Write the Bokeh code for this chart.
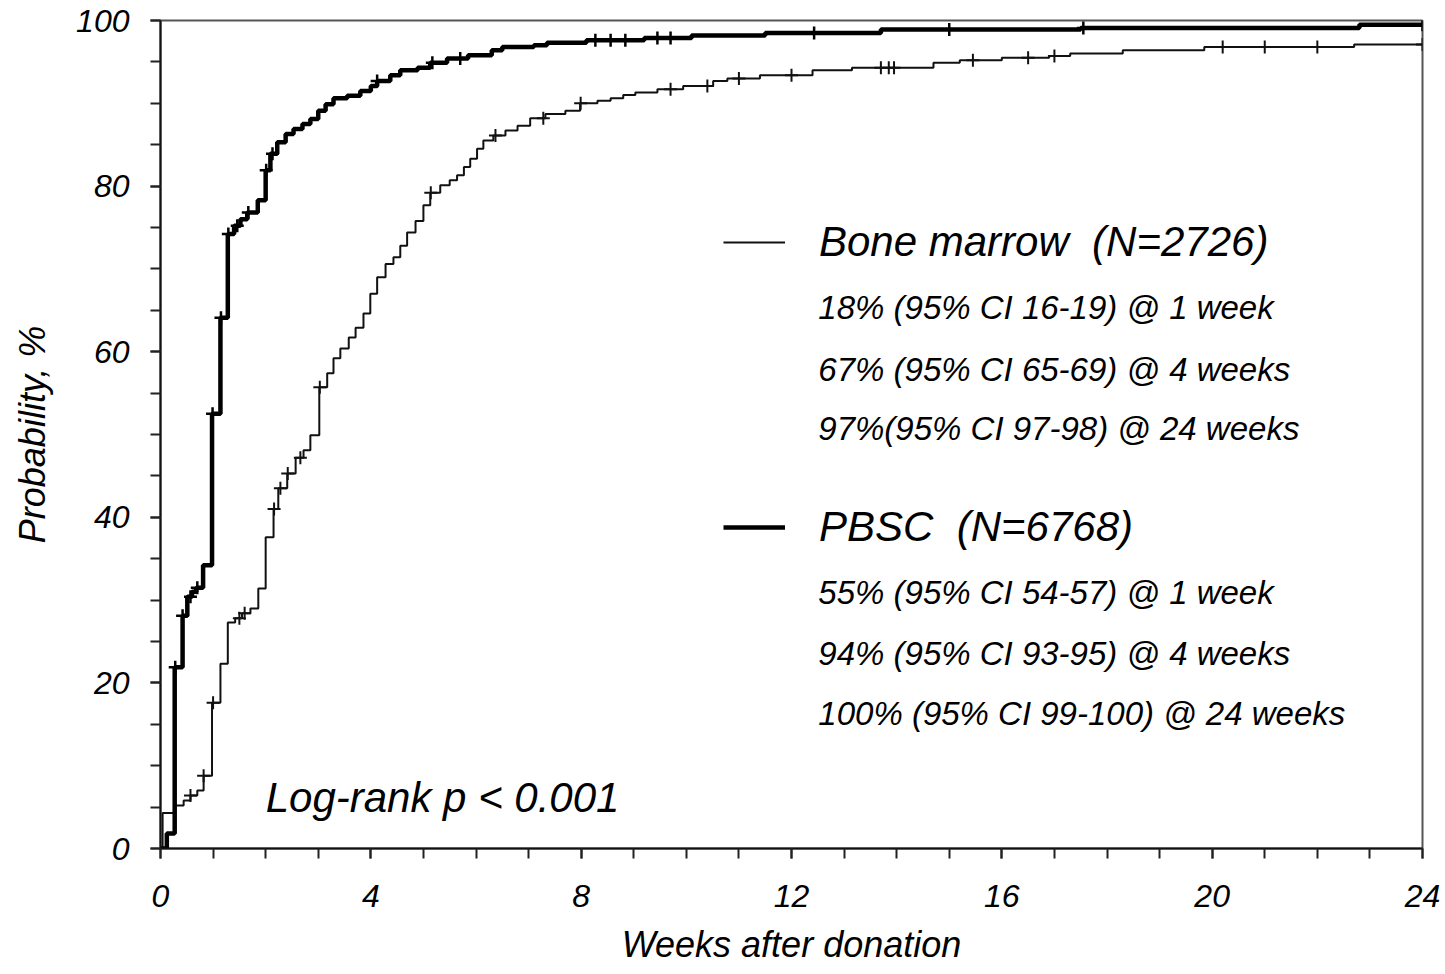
import numpy as np
from bokeh.plotting import figure
from bokeh.models import FixedTicker, Label, Legend, LegendItem, Range1d
from bokeh.embed import file_html
from bokeh.resources import INLINE

# ---- data ----
bm_weeks = [0, 0.04, 0.28, 0.44, 0.57, 0.70, 0.82, 0.98, 1.14, 1.28, 1.42, 1.55, 1.71, 1.86,
            2.00, 2.15, 2.24, 2.41, 2.57, 2.72, 2.85, 3.02, 3.17, 3.29, 3.42, 3.58, 3.71, 3.86,
            3.99, 4.12, 4.28, 4.43, 4.56, 4.69, 4.85, 5.00, 5.13, 5.32, 5.50, 5.64, 5.77, 5.89,
            6.02, 6.14, 6.33, 6.56, 6.79, 7.03, 7.32, 7.70, 7.98, 8.31, 8.56, 8.80, 9.03, 9.45,
            9.94, 10.51, 10.78, 11.40, 12.40, 13.15, 14.70, 15.20, 16.00, 16.90, 17.30, 18.30,
            19.85, 22.70, 24.0]
bm_prob = [0, 4.3, 5.2, 5.8, 6.4, 7.0, 8.8, 17.6, 22.3, 27.3, 27.8, 28.4, 29.0, 31.4,
           37.6, 41.0, 43.5, 45.3, 47.2, 48.1, 49.9, 55.7, 57.4, 59.2, 60.4, 61.7, 62.9, 64.6,
           67.0, 69.0, 70.6, 71.4, 72.8, 74.4, 75.8, 77.7, 79.2, 80.1, 80.7, 81.3, 82.3, 83.3,
           84.5, 85.5, 86.1, 86.7, 87.3, 88.2, 88.7, 89.1, 90.0, 90.3, 90.6, 91.0, 91.3, 91.7,
           92.1, 92.7, 93.0, 93.4, 94.0, 94.3, 94.9, 95.2, 95.5, 95.7, 96.0, 96.4,
           96.8, 97.1, 97.1]
bm_censored = [0.57, 0.82, 1.0, 1.5, 1.6, 2.16, 2.28, 2.42, 2.66, 3.03, 5.14, 6.37, 7.28, 7.99,
               9.7, 10.4, 11.0, 12.0, 13.7, 13.85, 13.95, 15.45, 16.5, 17.0, 20.2, 21.0, 22.0, 24.0]

pbsc_weeks = [0, 0.12, 0.27, 0.42, 0.51, 0.60, 0.68, 0.81, 0.98, 1.14, 1.28, 1.40, 1.52, 1.65,
              1.85, 2.00, 2.09, 2.22, 2.38, 2.53, 2.70, 2.85, 3.00, 3.14, 3.29, 3.55, 3.80, 4.00,
              4.12, 4.37, 4.56, 4.89, 5.13, 5.45, 5.85, 6.30, 6.50, 7.10, 7.35, 8.10, 9.20, 10.10,
              11.50, 13.70, 17.50, 22.80, 24.0]
pbsc_prob = [0, 1.8, 21.9, 28.1, 30.4, 31.0, 31.5, 34.2, 52.5, 64.1, 74.2, 75.2, 76.0, 76.8,
             78.3, 81.9, 83.9, 85.3, 86.3, 86.9, 87.5, 88.1, 89.1, 89.9, 90.6, 90.9, 91.5, 92.1,
             92.7, 93.4, 94.0, 94.3, 94.9, 95.4, 95.8, 96.4, 96.8, 97.0, 97.3, 97.6, 97.9, 98.2,
             98.5, 98.9, 99.1, 99.5, 99.5]
pbsc_censored = [0.28, 0.42, 0.57, 0.70, 0.99, 1.15, 1.29, 1.46, 1.67, 2.01, 2.13, 4.12, 5.17,
                 5.70, 8.27, 8.56, 8.84, 9.45, 9.70, 12.43, 15.0, 17.55, 24.0]

x_ticks = [0, 4, 8, 12, 16, 20, 24]
y_ticks = [0, 20, 40, 60, 80, 100]

bm_label = "Bone marrow  (N=2726)"
pbsc_label = "PBSC  (N=6768)"
bm_notes = ["18% (95% CI 16-19) @ 1 week", "67% (95% CI 65-69) @ 4 weeks",
            "97%(95% CI 97-98) @ 24 weeks"]
pbsc_notes = ["55% (95% CI 54-57) @ 1 week", "94% (95% CI 93-95) @ 4 weeks",
              "100% (95% CI 99-100) @ 24 weeks"]
logrank = "Log-rank p < 0.001"


def value_at(ts, vs, t):
    idx = np.searchsorted(np.asarray(ts), t, side="right") - 1
    return [vs[i] for i in idx]


FONT = "Liberation Sans"

p = figure(width=1445, height=974, output_backend="svg", toolbar_location=None,
           x_range=Range1d(0, 24), y_range=Range1d(0, 100),
           min_border_left=160, min_border_right=23, min_border_top=20, min_border_bottom=126)
p.xgrid.visible = False
p.ygrid.visible = False
p.outline_line_color = "#555555"
p.outline_line_width = 2
p.background_fill_color = "white"
p.border_fill_color = "white"

p.xaxis.ticker = FixedTicker(ticks=x_ticks, minor_ticks=list(range(0, 25)))
p.yaxis.ticker = FixedTicker(ticks=y_ticks, minor_ticks=list(range(0, 101, 5)))
for ax in (p.xaxis[0], p.yaxis[0]):
    ax.axis_line_width = 2
    ax.axis_line_color = "#111111"
    ax.major_tick_line_width = 2
    ax.minor_tick_line_width = 2
    ax.major_tick_line_color = "#222222"
    ax.minor_tick_line_color = "#222222"
    ax.major_tick_out = 10
    ax.major_tick_in = 0
    ax.minor_tick_out = 10
    ax.minor_tick_in = 0
    ax.major_label_text_font = FONT
    ax.major_label_text_font_style = "italic"
    ax.major_label_text_font_size = "32px"
    ax.major_label_text_color = "black"
    ax.axis_label_text_font = FONT
    ax.axis_label_text_font_style = "italic"
    ax.axis_label_text_font_size = "36px"
    ax.axis_label_text_color = "black"

p.xaxis.axis_label = "Weeks after donation"
p.yaxis.axis_label = "Probability, %"
p.xaxis.major_label_standoff = 26
p.xaxis.axis_label_standoff = 14
p.yaxis.major_label_standoff = 21
p.yaxis.axis_label_standoff = 20

bm_r = p.step(bm_weeks, bm_prob, mode="after", line_color="#111111", line_width=2)
pbsc_r = p.step(pbsc_weeks, pbsc_prob, mode="after", line_color="black", line_width=4.5)

p.scatter(bm_censored, value_at(bm_weeks, bm_prob, bm_censored), marker="cross",
          size=13, line_color="#111111", line_width=2)
p.scatter(pbsc_censored, value_at(pbsc_weeks, pbsc_prob, pbsc_censored), marker="cross",
          size=13, line_color="black", line_width=2.5)


def make_legend(label, renderer, y):
    lg = Legend(items=[LegendItem(label=label, renderers=[renderer])], location=(563, y),
                orientation="vertical", glyph_width=62, glyph_height=30, label_standoff=34,
                label_text_font=FONT, label_text_font_style="italic",
                label_text_font_size="42px", label_text_color="black",
                padding=0, margin=0, border_line_color=None, background_fill_alpha=0,
                label_height=30, spacing=0)
    p.add_layout(lg, "center")


make_legend(bm_label, bm_r, 848 - 243 - 23)
make_legend(pbsc_label, pbsc_r, 848 - 527 - 24)

note_x = 12.51
for txt, yy in zip(bm_notes, [65.3, 57.9, 50.7]):
    p.add_layout(Label(x=note_x, y=yy, text=txt, text_font=FONT, text_font_style="italic",
                       text_font_size="33px", text_baseline="middle", text_color="black"))
for txt, yy in zip(pbsc_notes, [30.9, 23.6, 16.3]):
    p.add_layout(Label(x=note_x, y=yy, text=txt, text_font=FONT, text_font_style="italic",
                       text_font_size="33px", text_baseline="middle", text_color="black"))
p.add_layout(Label(x=2.0, y=6.2, text=logrank, text_font=FONT, text_font_style="italic",
                   text_font_size="42px", text_baseline="middle", text_color="black"))

open("out.html", "w").write(file_html(p, INLINE))
